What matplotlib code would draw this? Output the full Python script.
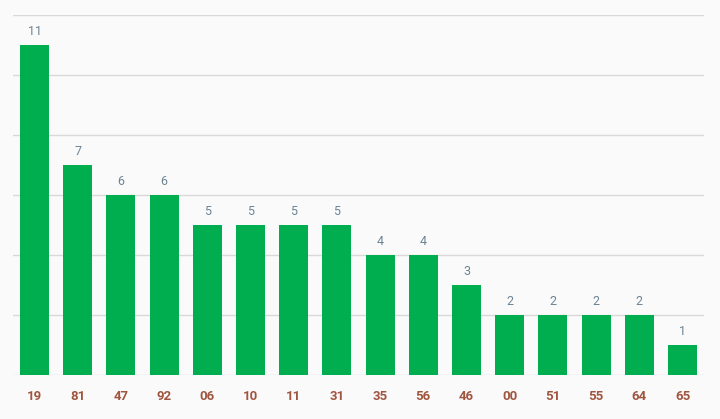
import matplotlib
matplotlib.use("Agg")
import matplotlib.pyplot as plt

labels = ["19", "81", "47", "92", "06", "10", "11", "31",
          "35", "56", "46", "00", "51", "55", "64", "65"]
counts = [11, 7, 6, 6, 5, 5, 5, 5, 4, 4, 3, 2, 2, 2, 2, 1]

plt.rcParams["font.family"] = ["Roboto", "DejaVu Sans"]

fig = plt.figure(figsize=(7.2, 4.19), dpi=100, facecolor="#fafafa")
ax = fig.add_axes([0.018, 0.105, 0.96, 0.859])
ax.set_facecolor("#fafafa")

x = range(len(labels))
bars = ax.bar(x, counts, width=0.67, color="#00ae4f", zorder=2)

for b, v in zip(bars, counts):
    ax.text(b.get_x() + b.get_width() / 2, v + 0.25, str(v),
            ha="center", va="bottom", fontsize=9, color="#6b8494")

ax.set_xlim(-0.5, len(labels) - 0.5)
ax.set_ylim(0, 12)
ax.set_yticks(range(0, 13, 2))
ax.yaxis.grid(True, color="#d9d9d9", linewidth=1, zorder=0)
ax.tick_params(axis="y", left=False, labelleft=False)
ax.tick_params(axis="x", bottom=False, pad=7)
ax.set_xticks(list(x))
ax.set_xticklabels(labels, fontsize=9.5, fontweight="bold", color="#a0553f")
for s in ax.spines.values():
    s.set_visible(False)

fig.savefig("out.png", dpi=100, facecolor=fig.get_facecolor())
